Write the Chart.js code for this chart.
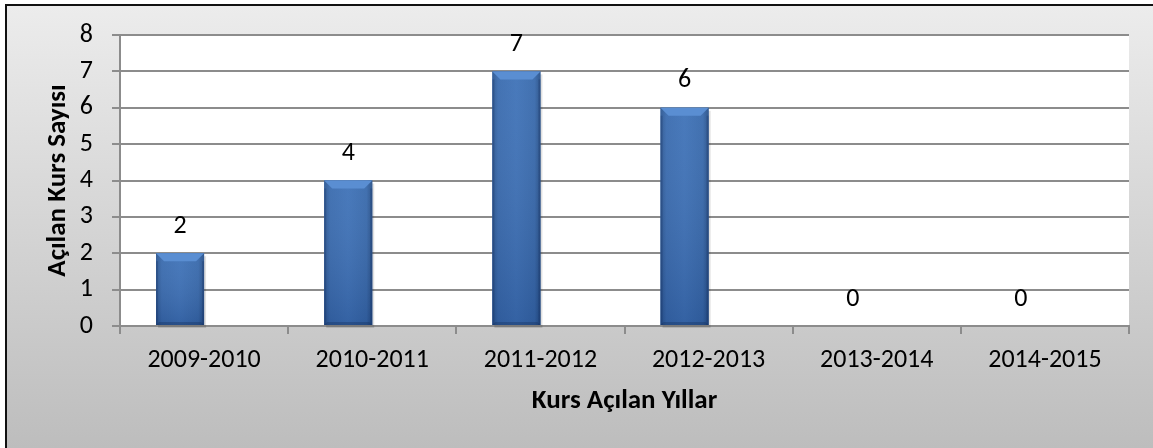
<!DOCTYPE html>
<html>
<head>
<meta charset="utf-8">
<script src="https://cdn.jsdelivr.net/npm/chart.js@4/dist/chart.umd.min.js"></script>
<style>
  html, body { margin: 0; padding: 0; background: #ffffff; }
  #wrap { position: absolute; left: 0; top: 0; width: 1153px; height: 448px; }
</style>
</head>
<body>
<div id="wrap"><canvas id="c" width="1153" height="448"></canvas></div>
<script>
const categories = ['2009-2010', '2010-2011', '2011-2012', '2012-2013', '2013-2014', '2014-2015'];
const courseCounts = [2, 4, 7, 6, 0, 0];
const yTicks = [0, 1, 2, 3, 4, 5, 6, 7, 8];
const yTitle = 'Açılan Kurs Sayısı';
const xTitle = 'Kurs Açılan Yıllar';

const FONT = 'Carlito, Calibri, Lato, "Open Sans", "Liberation Sans", sans-serif';
const GRID = '#8c8c8c';

const backgroundPlugin = {
  id: 'bg',
  beforeDraw(chart) {
    const ctx = chart.ctx;
    const w = chart.width, h = chart.height;
    ctx.save();
    ctx.fillStyle = '#ffffff';
    ctx.fillRect(0, 0, w, h);
    const g = ctx.createLinearGradient(0, 6, 0, h);
    g.addColorStop(0, '#ececec');
    g.addColorStop(1, '#bdbdbd');
    ctx.fillStyle = g;
    ctx.fillRect(7, 5, w - 7, h - 5);
    ctx.fillStyle = '#111111';
    ctx.fillRect(5, 4, w - 5, 2);
    ctx.fillRect(5, 4, 2, h - 4);
    const a = chart.chartArea;
    ctx.fillStyle = '#ffffff';
    ctx.fillRect(a.left, a.top, a.right - a.left, a.bottom - a.top);
    ctx.restore();
  }
};

const barStylePlugin = {
  id: 'barStyle',
  afterDatasetsDraw(chart) {
    const ctx = chart.ctx;
    const meta = chart.getDatasetMeta(0);
    ctx.save();
    meta.data.forEach((el) => {
      const p = el.getProps(['x', 'y', 'base', 'width'], true);
      const l = p.x - p.width / 2, r = p.x + p.width / 2;
      const t = Math.min(p.y, p.base), b = Math.max(p.y, p.base);
      const hgt = b - t;
      if (hgt < 1) return;
      ctx.fillStyle = 'rgba(0,0,0,0.12)';
      ctx.fillRect(l + 2, t + 3, p.width, hgt);
      const g = ctx.createLinearGradient(l, 0, r, 0);
      g.addColorStop(0, '#2a5590');
      g.addColorStop(0.12, '#386aae');
      g.addColorStop(0.5, '#3d71b7');
      g.addColorStop(0.88, '#3668ab');
      g.addColorStop(1, '#264f88');
      ctx.fillStyle = g;
      ctx.fillRect(l, t, p.width, hgt);
      const v = ctx.createLinearGradient(0, t, 0, b);
      v.addColorStop(0, 'rgba(255,255,255,0.06)');
      v.addColorStop(1, 'rgba(0,10,50,0.15)');
      ctx.fillStyle = v;
      ctx.fillRect(l, t, p.width, hgt);
      const bev = Math.min(8, hgt / 3);
      ctx.beginPath();
      ctx.moveTo(l, t); ctx.lineTo(r, t); ctx.lineTo(r - bev, t + bev); ctx.lineTo(l + bev, t + bev); ctx.closePath();
      ctx.fillStyle = '#5a8ed2';
      ctx.fill();
      ctx.beginPath();
      ctx.moveTo(l, b); ctx.lineTo(r, b); ctx.lineTo(r - 3, b - 3); ctx.lineTo(l + 3, b - 3); ctx.closePath();
      ctx.fillStyle = 'rgba(20,45,90,0.35)';
      ctx.fill();
      ctx.fillStyle = 'rgba(20,45,90,0.25)';
      ctx.fillRect(l, t + bev, 2, hgt - bev);
      ctx.fillRect(r - 2, t + bev, 2, hgt - bev);
    });
    ctx.restore();
  }
};

const labelPlugin = {
  id: 'valueLabels',
  afterDatasetsDraw(chart) {
    const ctx = chart.ctx;
    const meta = chart.getDatasetMeta(0);
    const data = chart.data.datasets[0].data;
    ctx.save();
    ctx.font = '26px ' + FONT;
    ctx.fillStyle = '#000000';
    ctx.textAlign = 'center';
    ctx.textBaseline = 'middle';
    meta.data.forEach((el, i) => {
      const p = el.getProps(['x', 'y'], true);
      ctx.fillText(String(data[i]), p.x, p.y - 27);
    });
    ctx.restore();
  }
};

new Chart(document.getElementById('c'), {
  type: 'bar',
  data: {
    labels: categories,
    datasets: [
      {
        label: yTitle,
        data: courseCounts,
        backgroundColor: '#3d71b7',
        borderWidth: 0,
        categoryPercentage: 0.5714,
        barPercentage: 1.0
      },
      {
        label: 'spacer',
        data: [],
        backgroundColor: 'rgba(0,0,0,0)',
        borderWidth: 0,
        categoryPercentage: 0.5714,
        barPercentage: 1.0
      }
    ]
  },
  options: {
    responsive: false,
    animation: false,
    devicePixelRatio: 1,
    layout: { padding: { left: 0, top: 35, right: 24, bottom: 0 } },
    plugins: {
      legend: { display: false },
      tooltip: { enabled: false },
      title: { display: false }
    },
    scales: {
      x: {
        offset: true,
        grid: {
          display: true,
          offset: true,
          drawOnChartArea: false,
          drawTicks: true,
          tickLength: 8,
          color: GRID,
          lineWidth: 2
        },
        border: { display: true, color: GRID, width: 2 },
        ticks: {
          color: '#000000',
          font: { family: FONT, size: 26 },
          padding: 11,
          maxRotation: 0,
          autoSkip: false
        },
        title: {
          display: true,
          text: xTitle,
          color: '#000000',
          font: { family: FONT, size: 27, weight: 'bold' },
          padding: { top: 0, bottom: 31 }
        },
        afterFit(scale) { scale.height = 448 - 326; }
      },
      y: {
        min: 0,
        max: 8,
        afterBuildTicks(scale) { scale.ticks = yTicks.map(v => ({ value: v })); },
        grid: {
          color: GRID,
          lineWidth: 2,
          drawTicks: true,
          tickLength: 8
        },
        border: { display: true, color: GRID, width: 2 },
        ticks: {
          color: '#000000',
          font: { family: FONT, size: 26 },
          padding: 19
        },
        title: {
          display: true,
          text: yTitle,
          color: '#000000',
          font: { family: FONT, size: 27, weight: 'bold' },
          padding: { top: 42, bottom: 0 }
        },
        afterFit(scale) { scale.width = 120; }
      }
    }
  },
  plugins: [backgroundPlugin, barStylePlugin, labelPlugin]
});
</script>
</body>
</html>
